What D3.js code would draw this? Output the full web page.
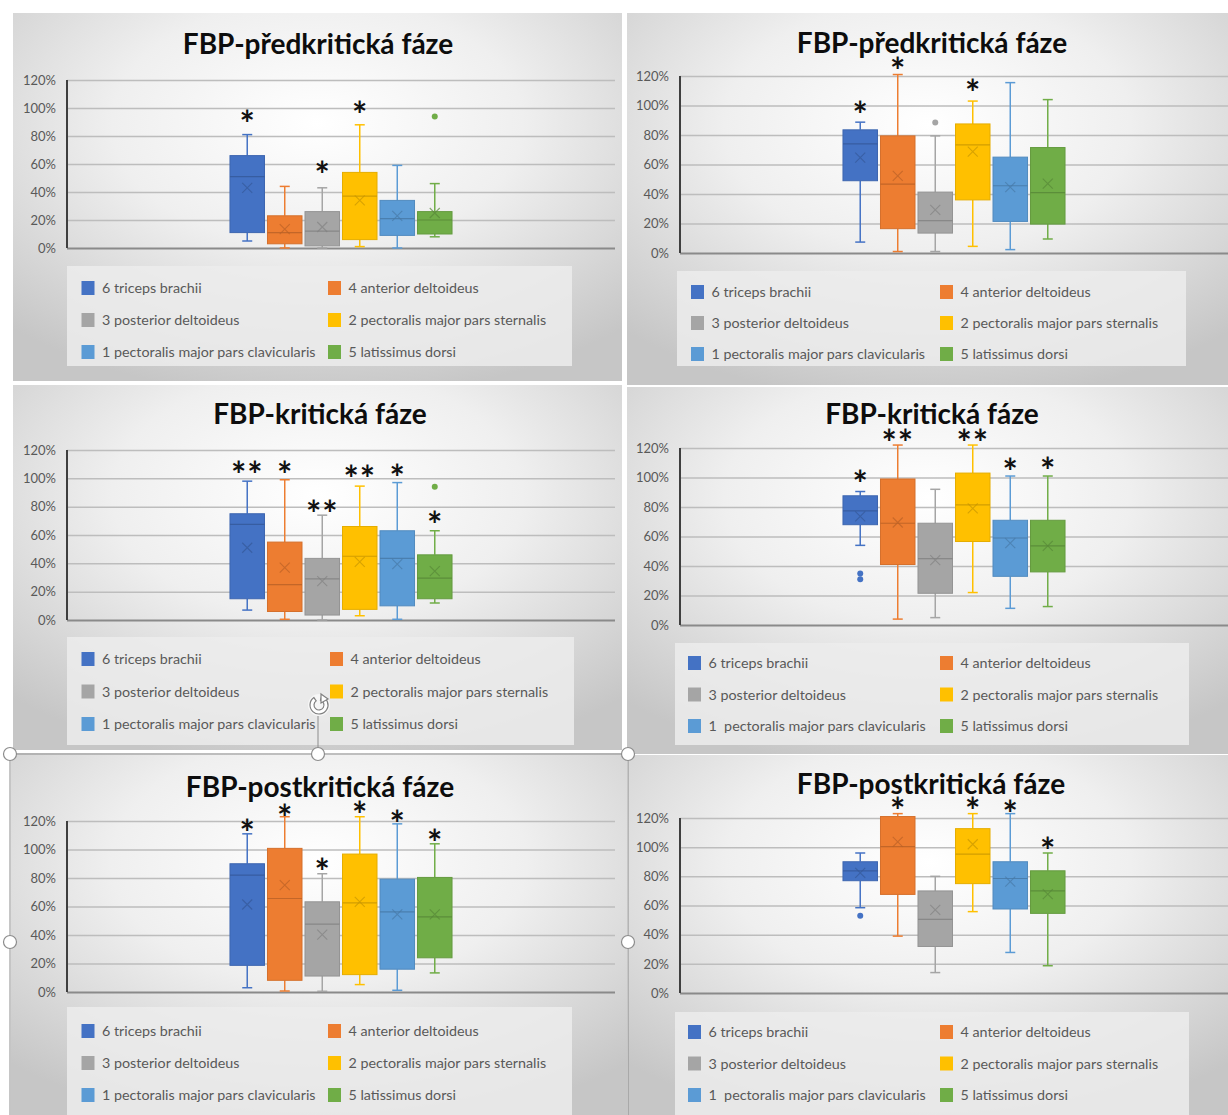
<!DOCTYPE html>
<html><head><meta charset="utf-8">
<script src="https://cdn.jsdelivr.net/npm/d3@7"></script>
<style>
body{margin:0;background:#fff}
svg{display:block}
text{font-family:Lato,"Open Sans",sans-serif}
</style>
</head><body>
<svg id="c" width="1228" height="1115"></svg>
<script>
// ---------- DATA ----------
const seriesNames = ["6 triceps brachii","4 anterior deltoideus","3 posterior deltoideus","2 pectoralis major pars sternalis","1 pectoralis major pars clavicularis","5 latissimus dorsi"];
const seriesNamesAlt = ["6 triceps brachii","4 anterior deltoideus","3 posterior deltoideus","2 pectoralis major pars sternalis","1  pectoralis major pars clavicularis","5 latissimus dorsi"];
const seriesColors = ["#4472C4","#ED7D31","#A5A5A5","#FFC000","#5B9BD5","#70AD47"];
const titles = ["FBP-předkritická fáze","FBP-předkritická fáze","FBP-kritická fáze","FBP-kritická fáze","FBP-postkritická fáze","FBP-postkritická fáze"];
const yTicks = [0,20,40,60,80,100,120];

// box stats per series: [min, q1, median, q3, max, mean] in %
const statsPreL = [[5,11,51,66,81,43],[0,3,11,23,44,13.5],[0,1.5,12,26,43,15],[1,6,37,54,88,34],[0,9,21,34,59,23],[8,10,20,26,46,25]];
const outliersPreL = [[],[],[],[],[],[94]];
const starsPreL = [[0,"*",94],[2,"*",58],[3,"*",101]];

const statsPreR = [[7.4,49,74,83.5,88.7,64.7],[1,16.5,46.7,79.4,121,52.3],[1,13.5,21.9,41.3,79.4,29.3],[4.5,36,73.3,87.5,103,68.8],[2.3,21.4,45.6,65,115.5,44.7],[9.5,19.6,41,71.5,104,47]];
const outliersPreR = [[],[],[88.4],[],[],[]];
const starsPreR = [[0,"*",99],[1,"*",128.6],[3,"*",114]];

const statsKritL = [[7,15,67.5,75,98,51],[0.5,6,25,55,99,37],[0,3.5,29,43.5,74,27.5],[3,7.5,45,66,94.5,41],[0.5,10,43.5,63,97,39.5],[12,15,29.5,46,63,34.5]];
const outliersKritL = [[],[],[],[],[],[94]];
const starsKritL = [[0,"**",108],[1,"*",108],[2,"**",80.5],[3,"**",105],[4,"*",106],[5,"*",72.5]];

const statsKritR = [[54,68,77.4,87.6,90.5,73.6],[4,41,69,99,122,69.5],[5,21.5,45,69,92,44],[22,56.6,81.5,103,122,79],[11.3,33,59,71,101,55.5],[12.5,36,53.7,71,101,53.7]];
const outliersKritR = [[35,31],[],[],[],[],[]];
const starsKritR = [[0,"*",101],[1,"**",129],[3,"**",129],[4,"*",109],[5,"*",110]];

const statsPostL = [[3,18.7,82,90,111,61.4],[0.7,8.2,65.6,100.8,123,75],[0.5,11.2,47.6,63.3,83,40.3],[5.2,12.2,62.6,96.8,123,63.3],[1.2,16,56.2,79.2,118,54.4],[13.4,24,52.7,80.4,104,54.4]];
const outliersPostL = [[],[],[],[],[],[]];
const starsPostL = [[0,"*",117],[1,"*",128],[2,"*",89.8],[3,"*",130],[4,"*",123.7],[5,"*",110]];

const statsPostR = [[58.5,77,83.8,90,96,82.4],[39,67.6,100.4,121,123,103.6],[14,31.9,50.5,70,80,57],[55.8,75,95.2,112.7,123,102],[27.8,57.6,78.5,90,123,76.3],[18.7,54.6,70,83.8,96,67.8]];
const outliersPostR = [[53],[],[],[],[],[]];
const starsPostR = [[1,"*",130],[3,"*",130],[4,"*",128.6],[5,"*",103]];

// ---------- LAYOUT ----------
const panels = [
 {stats:statsPreL, out:outliersPreL, stars:starsPreL, names:seriesNames,
  x0:13,y0:13,x1:622,y1:381, axisX:67, plotR:615, yZero:248, yTop:80, titleX:318, titleY:54, lg:[67,266,505,100], sw:[81.5,328], row0:288, rowStep:32},
 {stats:statsPreR, out:outliersPreR, stars:starsPreR, names:seriesNames,
  x0:627,y0:13,x1:1228,y1:385, axisX:680, plotR:1228, yZero:253, yTop:76, titleX:932, titleY:53, lg:[677,271,509,95], sw:[691,940], row0:292, rowStep:31},
 {stats:statsKritL, out:outliersKritL, stars:starsKritL, names:seriesNames,
  x0:13,y0:385,x1:622,y1:750, axisX:67, plotR:615, yZero:620, yTop:450, titleX:320, titleY:424, lg:[67,637,507,108], sw:[81.5,330], row0:659, rowStep:32.5},
 {stats:statsKritR, out:outliersKritR, stars:starsKritR, names:seriesNamesAlt,
  x0:627,y0:387,x1:1228,y1:754, axisX:680, plotR:1228, yZero:625, yTop:448, titleX:932, titleY:424, lg:[675,643,514,102], sw:[688,940], row0:663, rowStep:31.5},
 {stats:statsPostL, out:outliersPostL, stars:starsPostL, names:seriesNames,
  x0:11,y0:753,x1:627,y1:1115, axisX:67, plotR:615, yZero:992, yTop:821, titleX:320, titleY:797, lg:[67,1007,505,108], sw:[81.5,328], row0:1031, rowStep:32},
 {stats:statsPostR, out:outliersPostR, stars:starsPostR, names:seriesNamesAlt,
  x0:628,y0:755,x1:1228,y1:1115, axisX:680, plotR:1228, yZero:993, yTop:818, titleX:931, titleY:794, lg:[675,1012,514,103], sw:[688,940], row0:1032, rowStep:31.5}
];

const svg = d3.select("#c");
const defs = svg.append("defs");
const rg = defs.append("radialGradient").attr("id","bg").attr("cx",0.5).attr("cy",0.3).attr("r",0.75);
rg.append("stop").attr("offset","0%").attr("stop-color","#ffffff");
rg.append("stop").attr("offset","45%").attr("stop-color","#efefef");
rg.append("stop").attr("offset","100%").attr("stop-color","#c6c6c6");

const starSize = 36;

panels.forEach((p,pi) => {
  const g = svg.append("g");
  g.append("rect").attr("x",p.x0).attr("y",p.y0).attr("width",p.x1-p.x0).attr("height",p.y1-p.y0).attr("fill","url(#bg)");

  const y = d3.scaleLinear().domain([0,120]).range([p.yZero,p.yTop]);
  const W = p.plotR - p.axisX;
  const outer = d3.scaleBand().domain(["g"]).range([p.axisX,p.plotR]).paddingOuter(0.734);
  const inner = d3.scaleBand().domain(d3.range(6)).range([0,outer.bandwidth()]).paddingInner(0.08);
  const cx = i => outer("g") + inner(i) + inner.bandwidth()/2;
  const bw = inner.bandwidth();

  // gridlines + tick labels
  const yAxis = d3.axisLeft(y).tickValues(yTicks).tickSize(-(W)).tickFormat(d => d + "%").tickPadding(11);
  const ag = g.append("g").attr("transform",`translate(${p.axisX},0)`).call(yAxis);
  ag.select(".domain").remove();
  ag.selectAll(".tick line").attr("stroke",(d)=> d===0 ? "#8a8a8a" : "#bdbdbd").attr("stroke-width",(d)=> d===0?2:1.5);
  ag.selectAll(".tick text").attr("fill","#595959").attr("font-size",13).style("font-family","Lato, sans-serif");
  g.append("line").attr("x1",p.axisX).attr("x2",p.axisX).attr("y1",y(0)).attr("y2",y(120)).attr("stroke","#3f3f3f").attr("stroke-width",2);

  // boxes
  p.stats.forEach((s,i) => {
    const col = seriesColors[i];
    const dark = d3.color(col).darker(0.7).formatHex();
    const x = cx(i);
    const [mn,q1,md,q3,mx,mean] = s;
    const bg = g.append("g");
    bg.append("line").attr("x1",x).attr("x2",x).attr("y1",y(q3)).attr("y2",y(mx)).attr("stroke",col).attr("stroke-width",1.5);
    bg.append("line").attr("x1",x).attr("x2",x).attr("y1",y(q1)).attr("y2",y(mn)).attr("stroke",col).attr("stroke-width",1.5);
    [mn,mx].forEach(v => bg.append("line").attr("x1",x-5).attr("x2",x+5).attr("y1",y(v)).attr("y2",y(v)).attr("stroke",col).attr("stroke-width",1.5));
    bg.append("rect").attr("x",x-bw/2).attr("y",y(q3)).attr("width",bw).attr("height",y(q1)-y(q3))
      .attr("fill",col).attr("stroke",d3.color(col).darker(0.3).formatHex()).attr("stroke-width",1);
    bg.append("line").attr("x1",x-bw/2).attr("x2",x+bw/2).attr("y1",y(md)).attr("y2",y(md)).attr("stroke",dark).attr("stroke-width",1.2).attr("opacity",0.8);
    const m = 5, ym = y(mean);
    bg.append("path").attr("d",`M${x-m},${ym-m}L${x+m},${ym+m}M${x-m},${ym+m}L${x+m},${ym-m}`)
      .attr("stroke",dark).attr("stroke-width",1.1).attr("opacity",0.7).attr("fill","none");
    p.out[i].forEach(v => bg.append("circle").attr("cx",x).attr("cy",y(v)).attr("r",3).attr("fill",col));
  });

  // significance stars
  p.stars.forEach(([i,lab,v]) => {
    g.append("text").attr("x",cx(i)).attr("y",y(v)+starSize*0.585).attr("text-anchor","middle")
      .attr("font-size",starSize).attr("font-weight","bold").attr("fill","#111")
      .attr("letter-spacing",lab.length>1?1:0).text(lab);
  });

  // title
  g.append("text").attr("x",p.titleX).attr("y",p.titleY).attr("text-anchor","middle")
    .attr("font-size",28).attr("font-weight","bold").attr("fill","#0d0d0d").text(titles[pi]);

  // legend
  const [lx,ly,lw,lh] = p.lg;
  g.append("rect").attr("x",lx).attr("y",ly).attr("width",lw).attr("height",lh).attr("fill","#ececec").attr("opacity",0.85);
  p.names.forEach((nm,i) => {
    const col = i % 2, row = Math.floor(i/2);
    const sx = p.sw[col], ry = p.row0 + row*p.rowStep;
    g.append("rect").attr("x",sx).attr("y",ry-7).attr("width",13).attr("height",14).attr("fill",seriesColors[i]);
    g.append("text").attr("x",sx+20.5).attr("y",ry+5).attr("font-size",14.3).attr("fill","#595959")
      .style("white-space","pre").attr("xml:space","preserve").text(nm);
  });
});

// selection frame artifacts around the bottom-left chart
const sel = svg.append("g");
sel.append("path").attr("d","M10,754H628V1115M10,754V1115").attr("fill","none").attr("stroke","#8c8c8c").attr("stroke-width",1);
sel.append("line").attr("x1",318).attr("x2",318).attr("y1",716).attr("y2",754).attr("stroke","#8c8c8c").attr("stroke-width",1);
[[10,754],[318,754],[628,754],[10,942],[628,942]].forEach(([hx,hy]) =>
  sel.append("circle").attr("cx",hx).attr("cy",hy).attr("r",6.5).attr("fill","#fff").attr("stroke","#8c8c8c").attr("stroke-width",1.2));
const rot = sel.append("g").attr("transform","translate(319,705)");
rot.append("circle").attr("r",11).attr("fill","rgba(255,255,255,0.6)");
rot.append("path").attr("d",d3.arc()({innerRadius:5,outerRadius:9,startAngle:0.3,endAngle:2*Math.PI-0.6}))
  .attr("fill","#fff").attr("stroke","#7f7f7f").attr("stroke-width",1.2);
rot.append("path").attr("d","M2,-11L9,-6L2,-2Z").attr("fill","#fff").attr("stroke","#7f7f7f").attr("stroke-width",1.2);
</script>
</body></html>
